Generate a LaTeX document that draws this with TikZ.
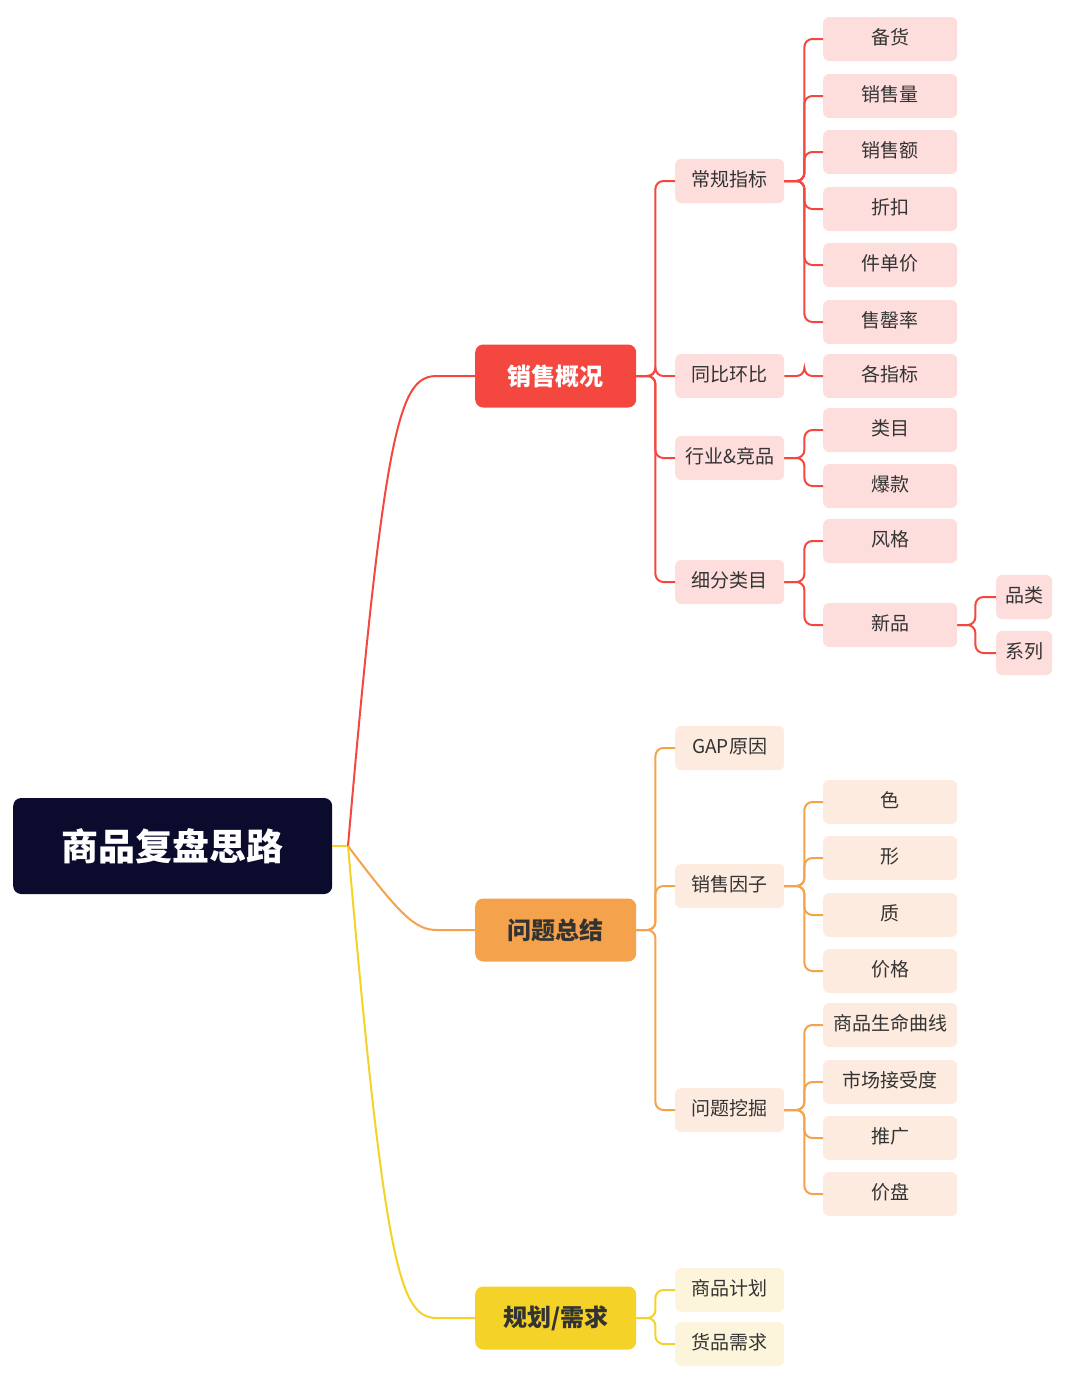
\documentclass[tikz,border=0pt]{standalone}
\usepackage{fontspec}
\setmainfont{Noto Sans CJK SC}
\definecolor{rootbg}{HTML}{0B0B2E}
\definecolor{redA}{HTML}{F4473F}
\definecolor{redB}{HTML}{FDDEDD}
\definecolor{orgA}{HTML}{F5A24C}
\definecolor{orgB}{HTML}{FDEBDF}
\definecolor{ylwA}{HTML}{F4D228}
\definecolor{ylwB}{HTML}{FCF5DB}
\definecolor{txt}{HTML}{333333}
\tikzset{
  box/.style={anchor=west, rounded corners=6pt, inner xsep=9pt, align=left, text=txt,
    font=\fontsize{19}{19}\selectfont, text height=14pt, text depth=4pt},
  leaf/.style={box, minimum height=44pt},
  top/.style={anchor=west, rounded corners=8pt, minimum width=161pt, minimum height=63pt,
    font=\fontsize{24}{24}\selectfont\bfseries},
  link/.style={line width=2pt, rounded corners=8pt},
}
\begin{document}
\begin{tikzpicture}[x=1pt,y=-1pt]
    \useasboundingbox (0,0) rectangle (1080,1387);
    % Root
    \node[top, fill=rootbg, text=white, minimum width=319pt, minimum height=96pt,
      font=\fontsize{37}{37}\selectfont\bfseries] (root) at (13,846) {商品复盘思路};

    % Main branches
    \node[top, fill=redA, text=white] (sales) at (475,376) {销售概况};
    \node[top, fill=orgA, text=txt] (issue) at (475,930) {问题总结};
    \node[top, fill=ylwA, text=txt] (plan) at (475,1318) {规划/需求};

    \coordinate (hub) at (348,846);
    \draw[line width=2pt, ylwA] (root.east) -- (hub);
    \draw[link, redA] (hub) .. controls (385,420) and (400,376) .. (445,376) -- (sales.west);
    \draw[link, orgA] (hub) .. controls (400,915) and (415,930) .. (445,930) -- (issue.west);
    \draw[link, ylwA] (hub) .. controls (385,1270) and (400,1318) .. (445,1318) -- (plan.west);

    % Sales overview
    \foreach \nm/\y/\t in {kpi/181/常规指标, yoy/376/同比环比, ind/458/行业\&竞品, sub/582/细分类目} {
        \node[leaf, fill=redB, minimum width=109pt] (\nm) at (675,\y) {\t};
        \draw[link, redA] (sales.east) -- ++(19,0) |- (\nm.west);
    }
    \foreach \nm/\y/\t/\p in {a1/39/备货/kpi, a2/96/销售量/kpi, a3/152/销售额/kpi, a4/209/折扣/kpi,
        a5/265/件单价/kpi, a6/322/售罄率/kpi, b1/376/各指标/yoy, c1/430/类目/ind, c2/486/爆款/ind,
        d1/541/风格/sub, d2/625/新品/sub} {
        \node[leaf, fill=redB, minimum width=134pt] (\nm) at (823,\y) {\t};
        \draw[link, redA] (\p.east) -- ++(20,0) |- (\nm.west);
    }
    \foreach \nm/\y/\t in {e1/597/品类, e2/653/系列} {
        \node[leaf, fill=redB, minimum width=54pt] (\nm) at (996,\y) {\t};
        \draw[link, redA] (d2.east) -- ++(18,0) |- (\nm.west);
    }

    % Issue summary
    \foreach \nm/\y/\t in {gap/748/GAP原因, fac/886/销售因子, dig/1110/问题挖掘} {
        \node[leaf, fill=orgB, minimum width=109pt] (\nm) at (675,\y) {\t};
        \draw[link, orgA] (issue.east) -- ++(19,0) |- (\nm.west);
    }
    \foreach \nm/\y/\t/\p in {f1/802/色/fac, f2/858/形/fac, f3/915/质/fac, f4/971/价格/fac,
        g1/1025/商品生命曲线/dig, g2/1082/市场接受度/dig, g3/1138/推广/dig, g4/1194/价盘/dig} {
        \node[leaf, fill=orgB, minimum width=134pt] (\nm) at (823,\y) {\t};
        \draw[link, orgA] (\p.east) -- ++(20,0) |- (\nm.west);
    }

    % Planning
    \foreach \nm/\y/\t in {pl1/1290/商品计划, pl2/1344/货品需求} {
        \node[leaf, fill=ylwB, minimum width=109pt] (\nm) at (675,\y) {\t};
        \draw[link, ylwA] (plan.east) -- ++(19,0) |- (\nm.west);
    }
\end{tikzpicture}
\end{document}
